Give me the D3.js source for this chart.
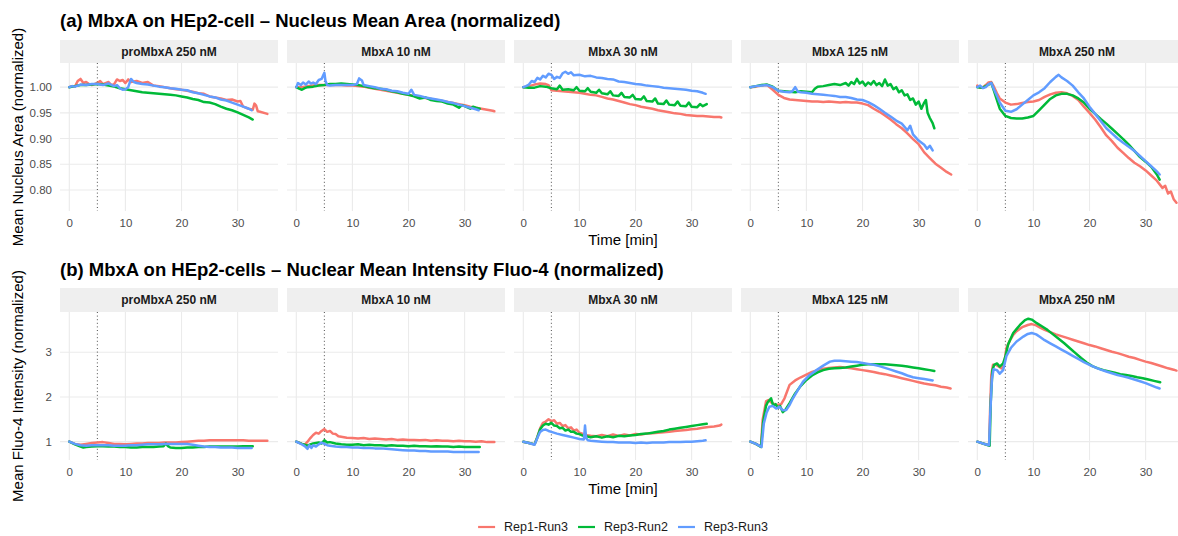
<!DOCTYPE html>
<html>
<head>
<meta charset="utf-8">
<script src="https://cdn.jsdelivr.net/npm/d3@7"></script>
<style>
body { margin: 0; background: #fff; }
text { font-family: "Liberation Sans", Arial, sans-serif; }
</style>
</head>
<body>
<div id="d3-plot"></div>
<script>
var conditions = ["proMbxA 250 nM", "MbxA 10 nM", "MbxA 30 nM", "MbxA 125 nM", "MbxA 250 nM"];
var runs = ["Rep1-Run3", "Rep3-Run2", "Rep3-Run3"];
var colors = ["#F8766D", "#00BA38", "#619CFF"];
var xTicks = [0, 10, 20, 30];
var areaTicks = [0.80, 0.85, 0.90, 0.95, 1.00];
var fluoTicks = [1, 2, 3];
var drugTime = 5;

// (a) nucleus mean area, [time, value]
var areaPro250Red = [[0,1.000],[0.5,1.002],[1,1.001],[1.5,1.012],[2,1.016],[2.5,1.008],[3,1.010],[3.5,1.006],[4,1.004],[5,1.008],[5.5,1.012],[6,1.006],[7,1.010],[7.5,1.004],[8,1.006],[8.5,1.015],[9,1.012],[9.5,1.014],[10,1.008],[10.5,1.015],[11,1.010],[12,1.012],[13,1.008],[14,1.010],[15,1.003],[16,1.002],[17,1.000],[18,0.998],[19,0.996],[20,0.995],[21,0.993],[22,0.991],[23,0.988],[24,0.987],[25,0.982],[26,0.980],[27,0.978],[28,0.975],[29,0.976],[30,0.972],[30.5,0.973],[31,0.962],[32,0.958],[32.7,0.956],[33,0.968],[33.3,0.964],[33.6,0.953],[34,0.952],[35,0.949],[35.3,0.948]];
var areaPro250Green = [[0,1.000],[1,1.002],[2,1.004],[3,1.004],[4,1.005],[5,1.006],[6,1.005],[7,1.003],[8,1.001],[9,0.998],[10,0.996],[11,0.994],[12,0.992],[13,0.990],[14,0.989],[15,0.988],[16,0.987],[17,0.986],[18,0.985],[19,0.984],[20,0.982],[21,0.980],[22,0.977],[23,0.975],[24,0.971],[25,0.970],[26,0.967],[27,0.962],[28,0.958],[29,0.955],[30,0.951],[31,0.946],[32,0.941],[32.7,0.937]];
var areaPro250Blue = [[0,1.000],[0.5,1.002],[1,1.001],[2,1.005],[3,1.004],[4,1.006],[5,1.006],[6,1.004],[7,1.007],[8,1.002],[8.5,1.004],[9,0.998],[9.5,0.995],[10,0.996],[10.5,1.000],[11,1.016],[11.5,1.010],[12,1.008],[13,1.006],[14,1.005],[15,1.003],[16,1.001],[17,1.000],[18,0.998],[19,0.997],[20,0.995],[21,0.994],[22,0.990],[23,0.988],[24,0.985],[25,0.982],[26,0.980],[27,0.976],[28,0.974],[29,0.970],[30,0.966],[31,0.962],[32,0.958],[32.5,0.955]];

var area10Red = [[0,1.000],[1,1.000],[2,1.002],[3,1.003],[4,1.004],[5,1.004],[6,1.004],[7,1.004],[8,1.004],[9,1.003],[10,1.003],[11,1.002],[12,1.001],[13,0.999],[14,0.997],[15,0.995],[16,0.993],[17,0.991],[18,0.989],[19,0.987],[20,0.985],[21,0.983],[22,0.981],[23,0.979],[24,0.977],[25,0.975],[26,0.973],[27,0.971],[28,0.969],[29,0.967],[30,0.965],[31,0.962],[32,0.960],[33,0.958],[34,0.956],[35,0.954],[35.3,0.953]];
var area10Green = [[0,1.000],[0.5,0.997],[1,0.995],[1.5,0.998],[2,1.000],[3,1.001],[4,1.003],[5,1.004],[6,1.006],[7,1.006],[8,1.007],[9,1.006],[10,1.005],[11,1.004],[12,1.002],[13,1.000],[14,0.998],[15,0.997],[16,0.995],[17,0.992],[18,0.990],[19,0.987],[20,0.985],[21,0.982],[22,0.978],[23,0.980],[24,0.975],[25,0.973],[26,0.972],[27,0.968],[28,0.966],[29,0.960],[29.5,0.965],[30,0.963],[31,0.958],[31.5,0.962],[32,0.960],[32.7,0.958]];
var area10Blue = [[0,1.000],[0.3,1.008],[0.8,1.004],[1.2,1.009],[1.7,1.005],[2.2,1.011],[2.6,1.007],[3,1.009],[3.5,1.006],[4,1.014],[4.5,1.016],[5,1.028],[5.2,1.012],[5.5,1.004],[6,1.003],[7,1.004],[8,1.004],[9,1.004],[10,1.004],[10.8,1.006],[11.2,1.017],[11.7,1.013],[12,1.004],[13,1.002],[14,1.000],[15,0.997],[16,0.996],[17,0.993],[18,0.992],[19,0.989],[20,0.987],[20.5,0.995],[21,0.985],[22,0.983],[23,0.980],[24,0.978],[25,0.976],[26,0.974],[27,0.971],[28,0.969],[29,0.966],[30,0.963],[31,0.960],[32,0.957],[32.5,0.955]];

var area30Red = [[0,1.000],[1,1.002],[2,1.005],[3,1.007],[4,1.006],[4.5,1.004],[5,0.994],[6,0.993],[7,0.992],[8,0.991],[9,0.990],[10,0.989],[11,0.987],[12,0.985],[13,0.984],[14,0.981],[15,0.978],[16,0.976],[17,0.973],[18,0.970],[19,0.967],[20,0.965],[21,0.962],[22,0.960],[23,0.958],[24,0.955],[25,0.953],[26,0.951],[27,0.949],[28,0.948],[29,0.946],[30,0.945],[31,0.944],[32,0.944],[33,0.943],[34,0.942],[35,0.942],[35.3,0.941]];
var area30Green = [[0,1.000],[1,0.999],[2,0.999],[3,1.002],[4,1.001],[5,0.998],[6,0.996],[6.5,1.003],[7,0.995],[8,0.996],[9,0.994],[9.5,1.000],[10,0.993],[11,0.992],[11.5,0.998],[12,0.991],[13,0.989],[13.5,0.995],[14,0.988],[15,0.986],[15.5,0.992],[16,0.984],[17,0.983],[17.5,0.989],[18,0.981],[19,0.980],[19.5,0.985],[20,0.977],[21,0.976],[21.5,0.982],[22,0.973],[23,0.972],[23.5,0.978],[24,0.968],[25,0.967],[25.5,0.974],[26,0.966],[27,0.965],[27.5,0.972],[28,0.964],[29,0.963],[29.5,0.970],[30,0.962],[31,0.961],[31.5,0.967],[32,0.963],[32.7,0.967]];
var area30Blue = [[0,1.000],[0.5,1.002],[1,1.005],[1.5,1.012],[2,1.010],[2.5,1.018],[3,1.015],[3.5,1.022],[4,1.019],[4.5,1.026],[5,1.024],[5.5,1.016],[6,1.020],[6.5,1.018],[7,1.027],[7.5,1.030],[8,1.026],[8.5,1.029],[9,1.023],[10,1.024],[11,1.021],[12,1.022],[13,1.019],[14,1.018],[15,1.016],[16,1.015],[17,1.011],[18,1.010],[19,1.008],[20,1.006],[21,1.005],[22,1.003],[23,1.002],[24,1.001],[25,0.999],[26,0.998],[27,0.997],[28,0.996],[29,0.995],[30,0.993],[31,0.992],[32,0.989],[32.5,0.987]];

var area125Red = [[0,1.000],[1,1.001],[2,1.003],[3,1.004],[4,0.995],[5,0.985],[6,0.979],[7,0.976],[8,0.975],[9,0.974],[10,0.973],[11,0.972],[12,0.972],[13,0.971],[14,0.972],[15,0.971],[16,0.970],[17,0.971],[18,0.970],[19,0.970],[20,0.968],[21,0.965],[22,0.958],[23,0.952],[24,0.945],[25,0.937],[26,0.928],[27,0.920],[28,0.910],[29,0.899],[30,0.889],[31,0.873],[32,0.862],[33,0.851],[34,0.843],[35,0.835],[35.8,0.830]];
var area125Green = [[0,1.000],[1,1.002],[2,1.004],[3,1.005],[4,1.001],[5,0.993],[6,0.992],[7,0.991],[8,0.990],[9,0.992],[10,0.991],[11,0.990],[11.5,0.997],[12,1.001],[13,1.002],[14,1.004],[15,1.006],[16,1.004],[17,1.008],[17.5,1.003],[18,1.010],[18.5,1.006],[19,1.016],[19.5,1.007],[20,1.011],[20.5,1.003],[21,1.009],[21.5,1.005],[22,1.012],[22.5,1.004],[23,1.008],[23.5,1.002],[24,1.015],[24.5,1.003],[25,1.006],[25.5,0.996],[26,1.000],[26.5,0.990],[27,0.994],[27.5,0.984],[28,0.986],[28.5,0.975],[29,0.978],[29.5,0.966],[30,0.972],[30.5,0.958],[31,0.970],[31.3,0.975],[31.6,0.950],[32,0.940],[32.5,0.930],[32.8,0.920]];
var area125Blue = [[0,1.000],[1,1.002],[2,1.003],[3,1.004],[4,1.000],[5,0.993],[6,0.991],[7,0.990],[7.5,0.992],[8,1.000],[8.5,0.991],[9,0.990],[10,0.989],[11,0.987],[12,0.986],[13,0.985],[14,0.984],[15,0.983],[16,0.981],[17,0.981],[18,0.979],[19,0.976],[20,0.975],[21,0.971],[22,0.965],[23,0.958],[24,0.950],[25,0.943],[26,0.935],[27,0.929],[28,0.916],[28.5,0.925],[29,0.908],[30,0.896],[31,0.888],[31.5,0.880],[32,0.886],[32.5,0.877]];

var area250Red = [[0,1.003],[0.5,0.999],[1,1.000],[1.5,1.004],[2,1.009],[2.5,1.010],[3,1.000],[3.5,0.988],[4,0.978],[5,0.970],[6,0.966],[7,0.967],[8,0.969],[9,0.971],[10,0.972],[11,0.975],[12,0.981],[13,0.986],[14,0.989],[15,0.990],[16,0.988],[17,0.983],[18,0.975],[19,0.962],[20,0.950],[21,0.937],[22,0.922],[23,0.906],[24,0.895],[25,0.882],[26,0.872],[27,0.862],[28,0.853],[29,0.846],[30,0.838],[31,0.828],[32,0.818],[33,0.804],[33.5,0.808],[34,0.793],[34.5,0.797],[35,0.782],[35.5,0.775]];
var area250Green = [[0,1.000],[1,0.999],[2,1.005],[2.5,1.008],[3,0.992],[3.5,0.975],[4,0.958],[5,0.944],[6,0.940],[7,0.939],[8,0.939],[9,0.941],[10,0.944],[11,0.955],[12,0.966],[13,0.977],[14,0.984],[15,0.987],[16,0.987],[17,0.984],[18,0.978],[19,0.970],[20,0.958],[21,0.948],[22,0.938],[23,0.929],[24,0.919],[25,0.909],[26,0.899],[27,0.888],[28,0.876],[29,0.864],[30,0.855],[31,0.845],[32,0.830],[32.5,0.820]];
var area250Blue = [[0,1.000],[0.5,1.003],[1,0.998],[1.5,1.000],[2,1.006],[2.5,1.008],[3,0.995],[3.5,0.983],[4,0.970],[5,0.954],[6,0.952],[7,0.957],[8,0.966],[9,0.975],[10,0.984],[11,0.990],[12,0.998],[13,1.010],[14,1.020],[14.5,1.024],[15,1.019],[16,1.012],[17,1.003],[18,0.990],[19,0.978],[20,0.962],[21,0.948],[22,0.934],[23,0.920],[24,0.910],[25,0.900],[26,0.892],[27,0.884],[28,0.876],[29,0.866],[30,0.856],[31,0.846],[32,0.836],[32.5,0.830]];

// (b) nuclear mean intensity Fluo-4, [time, value]
var fluoPro250Red = [[0,1.00],[1,0.95],[2,0.93],[3,0.95],[4,0.97],[5,0.98],[6,0.99],[7,0.97],[8,0.95],[9,0.95],[10,0.94],[11,0.95],[12,0.96],[13,0.96],[14,0.97],[15,0.97],[16,0.97],[17,0.98],[18,0.98],[19,0.98],[20,0.99],[21,1.00],[22,1.01],[23,1.02],[24,1.02],[25,1.03],[26,1.03],[27,1.03],[28,1.03],[29,1.03],[30,1.03],[31,1.03],[32,1.02],[33,1.02],[34,1.02],[35,1.02],[35.3,1.02]];
var fluoPro250Green = [[0,1.00],[1,0.94],[2,0.89],[2.5,0.87],[3,0.88],[4,0.89],[5,0.90],[6,0.90],[7,0.89],[8,0.89],[9,0.88],[10,0.88],[11,0.87],[12,0.87],[13,0.88],[14,0.88],[15,0.88],[16,0.89],[16.8,0.90],[17.2,0.96],[17.6,0.90],[18,0.87],[19,0.86],[20,0.86],[21,0.87],[22,0.87],[23,0.88],[24,0.88],[25,0.89],[26,0.89],[27,0.89],[28,0.89],[29,0.89],[30,0.89],[31,0.90],[32,0.90],[32.7,0.90]];
var fluoPro250Blue = [[0,1.00],[1,0.95],[2,0.92],[3,0.91],[4,0.92],[5,0.92],[6,0.92],[7,0.92],[8,0.91],[9,0.91],[10,0.91],[11,0.92],[12,0.92],[13,0.93],[14,0.94],[15,0.94],[16,0.94],[17,0.95],[18,0.95],[19,0.95],[20,0.95],[21,0.95],[22,0.93],[23,0.91],[24,0.89],[25,0.88],[26,0.88],[27,0.87],[28,0.87],[29,0.87],[30,0.86],[31,0.86],[32,0.86],[32.5,0.86]];

var fluo10Red = [[0,1.00],[1,0.95],[1.5,0.93],[2,1.00],[2.5,1.08],[3,1.15],[3.5,1.20],[4,1.18],[4.5,1.24],[5,1.28],[5.5,1.22],[6,1.24],[6.5,1.18],[7,1.17],[7.5,1.12],[8,1.11],[9,1.09],[10,1.08],[11,1.07],[12,1.08],[13,1.06],[14,1.07],[15,1.06],[16,1.05],[17,1.06],[18,1.04],[19,1.05],[20,1.04],[21,1.04],[22,1.03],[23,1.04],[24,1.02],[25,1.03],[26,1.02],[27,1.02],[28,1.01],[29,1.02],[30,1.01],[31,1.01],[32,1.00],[33,1.01],[34,0.99],[35,0.99],[35.3,0.99]];
var fluo10Green = [[0,1.00],[1,0.95],[1.5,0.93],[2,0.91],[2.5,0.94],[3,0.96],[4,0.98],[4.5,0.96],[5,1.03],[5.5,0.98],[6,0.99],[7,0.96],[8,0.94],[9,0.93],[10,0.93],[11,0.94],[12,0.92],[13,0.93],[14,0.92],[15,0.92],[16,0.91],[17,0.92],[18,0.91],[19,0.91],[20,0.90],[21,0.91],[22,0.90],[23,0.90],[24,0.89],[25,0.90],[26,0.89],[27,0.89],[28,0.88],[29,0.89],[30,0.88],[31,0.88],[32,0.88],[32.7,0.88]];
var fluo10Blue = [[0,1.00],[1,0.94],[1.5,0.90],[2,0.84],[2.3,0.92],[2.7,0.86],[3,0.92],[3.5,0.89],[4,0.94],[4.5,0.98],[5,0.95],[5.5,0.92],[6,0.91],[7,0.89],[8,0.88],[9,0.88],[10,0.87],[11,0.87],[12,0.86],[13,0.86],[14,0.85],[15,0.85],[16,0.84],[17,0.83],[18,0.82],[19,0.81],[20,0.80],[21,0.80],[22,0.79],[23,0.79],[24,0.78],[25,0.78],[26,0.78],[27,0.78],[28,0.77],[29,0.77],[30,0.77],[31,0.77],[32,0.77],[32.5,0.77]];

var fluo30Red = [[0,1.00],[1,0.97],[2,0.94],[2.5,1.10],[3,1.30],[3.5,1.42],[4,1.45],[4.5,1.50],[5,1.46],[5.5,1.48],[6,1.40],[6.5,1.42],[7,1.35],[7.5,1.37],[8,1.30],[8.5,1.32],[9,1.25],[9.5,1.27],[10,1.20],[10.5,1.18],[11,1.15],[12,1.13],[13,1.12],[14,1.15],[15,1.12],[16,1.16],[17,1.13],[18,1.16],[19,1.14],[20,1.17],[21,1.16],[22,1.18],[23,1.19],[24,1.20],[25,1.21],[26,1.22],[27,1.24],[28,1.25],[29,1.26],[30,1.28],[31,1.29],[32,1.31],[33,1.33],[34,1.34],[35,1.36],[35.3,1.38]];
var fluo30Green = [[0,1.00],[1,0.97],[2,0.94],[2.5,1.10],[3,1.28],[3.5,1.36],[4,1.40],[4.5,1.38],[5,1.42],[5.5,1.36],[6,1.35],[6.5,1.30],[7,1.31],[7.5,1.25],[8,1.27],[8.5,1.22],[9,1.22],[9.5,1.18],[10,1.17],[10.5,1.14],[11,1.13],[12,1.10],[13,1.12],[14,1.09],[15,1.12],[16,1.10],[17,1.13],[18,1.12],[19,1.14],[20,1.15],[21,1.17],[22,1.18],[23,1.20],[24,1.22],[25,1.24],[26,1.27],[27,1.29],[28,1.31],[29,1.33],[30,1.35],[31,1.37],[32,1.39],[32.7,1.40]];
var fluo30Blue = [[0,1.00],[1,0.97],[2,0.93],[2.5,1.08],[3,1.22],[3.5,1.26],[4,1.27],[4.5,1.24],[5,1.22],[6,1.18],[7,1.15],[8,1.12],[9,1.09],[10,1.06],[10.8,1.05],[11,1.36],[11.2,1.08],[11.5,1.03],[12,1.02],[13,1.01],[14,1.00],[15,0.99],[16,0.99],[17,0.98],[18,0.98],[19,0.98],[20,0.97],[21,0.98],[22,0.97],[23,0.98],[24,0.98],[25,0.98],[26,0.99],[27,0.99],[28,0.99],[29,1.00],[30,1.00],[31,1.01],[32,1.02],[32.5,1.03]];

var fluo125Red = [[0,1.00],[1,0.95],[1.9,0.89],[2.2,1.49],[2.8,1.90],[3.2,1.93],[3.7,1.88],[4.6,1.82],[5.5,1.84],[6.1,1.97],[7,2.27],[8,2.37],[9,2.44],[10,2.50],[11,2.56],[12,2.60],[13,2.63],[14,2.65],[15,2.66],[16,2.67],[17,2.66],[18,2.64],[19,2.62],[20,2.60],[21,2.58],[22,2.56],[23,2.53],[24,2.51],[25,2.48],[26,2.45],[27,2.42],[28,2.39],[29,2.36],[30,2.33],[31,2.30],[32,2.28],[33,2.26],[34,2.23],[35,2.21],[35.7,2.19]];
var fluo125Green = [[0,1.00],[1,0.95],[1.9,0.88],[2.3,1.45],[2.8,1.80],[3.1,1.88],[3.7,1.97],[4.1,1.80],[4.5,1.84],[4.9,1.76],[5.3,1.80],[5.8,1.66],[6.3,1.72],[7,1.86],[8,2.08],[9,2.25],[10,2.38],[11,2.48],[12,2.55],[13,2.60],[14,2.63],[15,2.64],[16,2.65],[17,2.66],[18,2.68],[19,2.70],[20,2.72],[21,2.73],[22,2.73],[23,2.73],[24,2.73],[25,2.72],[26,2.71],[27,2.70],[28,2.68],[29,2.66],[30,2.64],[31,2.62],[32,2.60],[32.8,2.58]];
var fluo125Blue = [[0,1.00],[1,0.95],[2,0.88],[2.4,1.40],[2.9,1.65],[3.4,1.78],[4,1.80],[4.6,1.74],[5.2,1.78],[5.8,1.70],[6.4,1.71],[7,1.82],[7.6,1.97],[8.5,2.16],[9.4,2.34],[10.5,2.48],[11.8,2.60],[13,2.70],[14.2,2.79],[15,2.81],[16,2.81],[17,2.80],[18,2.79],[19,2.78],[20,2.76],[21,2.74],[22,2.72],[23,2.69],[24,2.65],[25,2.61],[26,2.57],[27,2.53],[28,2.48],[29,2.44],[30,2.42],[31,2.40],[32,2.38],[32.5,2.37]];

var fluo250Red = [[0,1.00],[1,0.96],[2.1,0.92],[2.3,1.80],[2.5,2.50],[2.8,2.72],[3.3,2.72],[3.8,2.68],[4.3,2.64],[4.8,2.75],[5.2,3.10],[5.8,3.26],[6.4,3.39],[7,3.47],[8,3.56],[9,3.61],[9.7,3.63],[10.5,3.60],[11.2,3.55],[12,3.50],[13,3.45],[14,3.40],[15,3.36],[16,3.32],[17,3.28],[18,3.24],[19,3.20],[20,3.16],[21,3.13],[22,3.09],[23,3.05],[24,3.01],[25,2.98],[26,2.94],[27,2.90],[28,2.87],[29,2.83],[30,2.79],[31,2.76],[32,2.72],[33,2.68],[34,2.64],[35,2.61],[35.5,2.59]];
var fluo250Green = [[0,1.00],[1,0.96],[2.2,0.91],[2.4,1.90],[2.7,2.60],[3,2.72],[3.5,2.75],[4,2.68],[4.6,2.75],[5,2.90],[5.5,3.18],[6.4,3.43],[7.6,3.61],[8.5,3.72],[9.1,3.75],[9.7,3.73],[10.6,3.65],[11.5,3.58],[12.5,3.50],[13.5,3.40],[14.5,3.30],[15.5,3.20],[16.5,3.09],[17.5,2.98],[18.5,2.87],[19.5,2.77],[20.5,2.69],[21.5,2.64],[22.5,2.60],[23.5,2.57],[24.5,2.54],[25.5,2.51],[26.5,2.49],[27.5,2.47],[28.5,2.44],[29.5,2.42],[30.5,2.39],[31.5,2.36],[32.6,2.33]];
var fluo250Blue = [[0,1.00],[1,0.96],[2.1,0.92],[2.3,1.60],[2.6,2.40],[2.9,2.62],[3.5,2.60],[4,2.52],[4.6,2.60],[5.2,2.92],[6,3.10],[7,3.24],[8.2,3.35],[9,3.41],[9.7,3.43],[10.5,3.40],[11.2,3.34],[12,3.27],[13,3.20],[14,3.13],[15,3.06],[16,2.99],[17,2.92],[18,2.85],[19,2.78],[20,2.72],[21,2.66],[22,2.61],[23,2.57],[24,2.53],[25,2.49],[26,2.46],[27,2.43],[28,2.39],[29,2.35],[30,2.31],[31,2.26],[32,2.21],[32.5,2.19]];

var rows = [
  {title: "(a) MbxA on HEp2-cell \u2013 Nucleus Mean Area (normalized)", ylab: "Mean Nucleus Area (normalized)",
   titleY: 27, stripTop: 40, top: 63, bottom: 211, domain: [0.759, 1.047], ticks: areaTicks, fmt: d3.format(".2f"),
   series: [[areaPro250Red, areaPro250Green, areaPro250Blue], [area10Red, area10Green, area10Blue], [area30Red, area30Green, area30Blue], [area125Red, area125Green, area125Blue], [area250Red, area250Green, area250Blue]]},
  {title: "(b) MbxA on HEp2-cells \u2013 Nuclear Mean Intensity Fluo-4 (normalized)", ylab: "Mean Fluo-4 Intensity (normalized)",
   titleY: 276, stripTop: 288, top: 312, bottom: 460, domain: [0.59, 3.90], ticks: fluoTicks, fmt: d3.format("d"),
   series: [[fluoPro250Red, fluoPro250Green, fluoPro250Blue], [fluo10Red, fluo10Green, fluo10Blue], [fluo30Red, fluo30Green, fluo30Blue], [fluo125Red, fluo125Green, fluo125Blue], [fluo250Red, fluo250Green, fluo250Blue]]}
];

var width = 1178, height = 536;
var left0 = 60, panelW = 218, panelStep = 227;
var xDomain = [-1.66, 37.2];

var svg = d3.select("#d3-plot").append("svg").attr("width", width).attr("height", height).style("display", "block");

rows.forEach(function(row) {
  var y = d3.scaleLinear().domain(row.domain).range([row.bottom, row.top]);

  svg.append("text").attr("x", left0).attr("y", row.titleY).style("font-size", "18.5px").style("font-weight", "bold").attr("fill", "#000").text(row.title);

  svg.append("text").attr("transform", "translate(22.5," + ((row.top + row.bottom) / 2) + ") rotate(-90)")
    .attr("text-anchor", "middle").style("font-size", "15px").attr("fill", "#000").text(row.ylab);

  svg.append("g").attr("transform", "translate(" + left0 + ",0)")
    .call(d3.axisLeft(y).tickValues(row.ticks).tickFormat(row.fmt).tickSize(0).tickPadding(8))
    .call(function(g) { g.select(".domain").remove(); g.selectAll("text").attr("fill", "#4D4D4D").style("font-size", "11.5px").style("font-family", '"Liberation Sans", Arial, sans-serif'); });

  svg.append("text").attr("x", left0 + (4 * panelStep + panelW) / 2).attr("y", row.bottom + 33.5)
    .attr("text-anchor", "middle").style("font-size", "15px").attr("fill", "#000").text("Time [min]");

  conditions.forEach(function(cond, i) {
    var x0 = left0 + i * panelStep;
    var x = d3.scaleLinear().domain(xDomain).range([x0, x0 + panelW]);
    var g = svg.append("g");

    g.append("rect").attr("x", x0).attr("y", row.stripTop).attr("width", panelW).attr("height", row.top - row.stripTop).attr("fill", "#EFEFEF");
    g.append("text").attr("x", x0 + panelW / 2).attr("y", (row.stripTop + row.top) / 2).attr("dy", "0.36em")
      .attr("text-anchor", "middle").style("font-size", "12px").style("font-weight", "bold").attr("fill", "#1A1A1A").text(cond);

    g.selectAll(".hgrid").data(row.ticks).enter().append("line")
      .attr("x1", x0).attr("x2", x0 + panelW).attr("y1", function(d) { return y(d); }).attr("y2", function(d) { return y(d); })
      .attr("stroke", "#EBEBEB").attr("stroke-width", 1.1);
    g.selectAll(".vgrid").data(xTicks).enter().append("line")
      .attr("x1", function(d) { return x(d); }).attr("x2", function(d) { return x(d); }).attr("y1", row.top).attr("y2", row.bottom)
      .attr("stroke", "#EBEBEB").attr("stroke-width", 1.1);

    g.append("g").attr("transform", "translate(0," + row.bottom + ")")
      .call(d3.axisBottom(x).tickValues(xTicks).tickSize(0).tickPadding(7.5))
      .call(function(a) { a.select(".domain").remove(); a.selectAll("text").attr("fill", "#4D4D4D").style("font-size", "11.5px").style("font-family", '"Liberation Sans", Arial, sans-serif'); });

    g.append("line").attr("x1", x(drugTime)).attr("x2", x(drugTime)).attr("y1", row.top).attr("y2", row.bottom)
      .attr("stroke", "#3a3a3a").attr("stroke-width", 0.9).attr("stroke-dasharray", "1,2.6");

    var line = d3.line().x(function(d) { return x(d[0]); }).y(function(d) { return y(d[1]); });
    g.selectAll(".run").data(row.series[i]).enter().append("path")
      .attr("d", line).attr("fill", "none").attr("stroke", function(d, k) { return colors[k]; })
      .attr("stroke-width", 2.5).attr("stroke-linejoin", "round").attr("stroke-linecap", "round");
  });
});

// legend
var legend = svg.append("g");
var items = legend.selectAll("g").data(runs).enter().append("g");
items.append("line").attr("x1", 0).attr("x2", 17).attr("y1", 0).attr("y2", 0).attr("stroke", function(d, k) { return colors[k]; }).attr("stroke-width", 2.2);
items.append("text").attr("x", 26).attr("y", 0).attr("dy", "0.35em").style("font-size", "12.5px").attr("fill", "#1A1A1A").text(function(d) { return d; });
var pos = 0, offsets = [];
items.each(function() {
  offsets.push(pos);
  pos += 26 + d3.select(this).select("text").node().getComputedTextLength() + 10;
});
pos -= 10;
var legendX = left0 + (4 * panelStep + panelW) / 2 - pos / 2;
items.attr("transform", function(d, k) { return "translate(" + (legendX + offsets[k]) + ",527)"; });
</script>
</body>
</html>
